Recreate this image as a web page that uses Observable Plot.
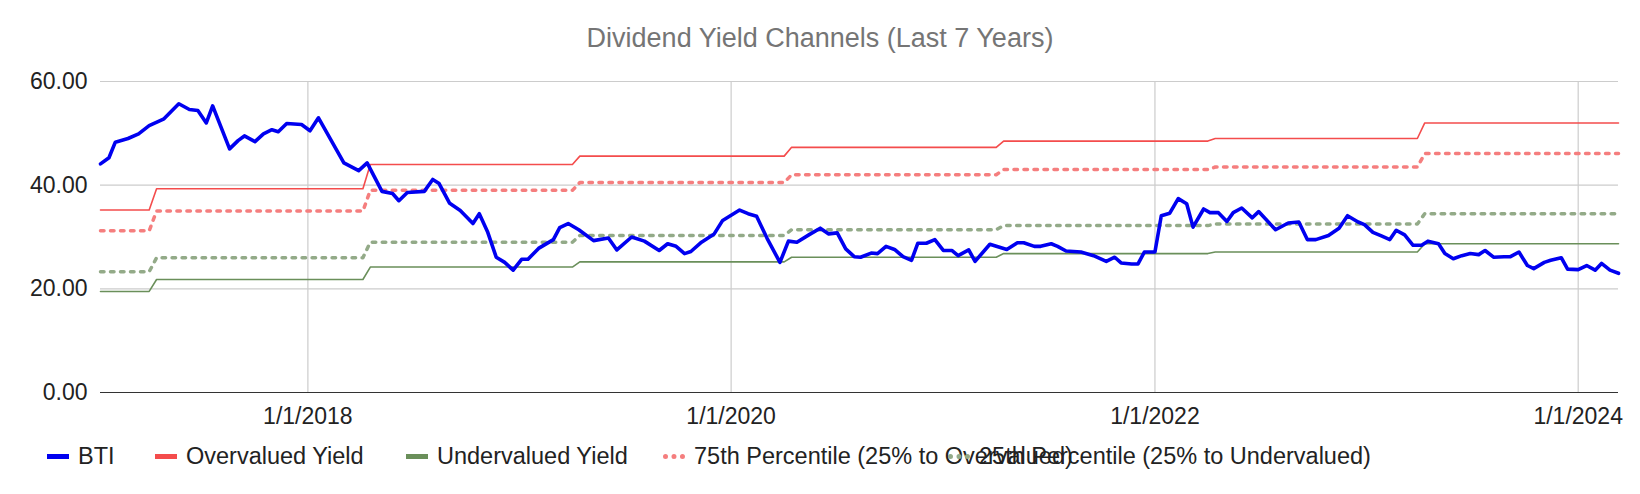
<!DOCTYPE html>
<html><head><meta charset="utf-8">
<script src="https://cdn.jsdelivr.net/npm/d3@7"></script>
<script src="https://cdn.jsdelivr.net/npm/@observablehq/plot@0.6"></script>
<style>
body{margin:0;background:#fff;font-family:"Liberation Sans",Arial,sans-serif;width:1640px;height:494px;position:relative;overflow:hidden}
#title{position:absolute;top:22px;left:0;width:1640px;text-align:center;font-size:27px;color:#757575;line-height:32px}
#chart{position:absolute;top:60px;left:0}
#legend{position:absolute;top:442px;left:0;font-size:23.5px;color:#222}
.it{position:absolute;white-space:nowrap;display:flex;align-items:center;line-height:28px}
.sw{width:22px;height:0;margin-right:9px}
</style></head><body>
<div id="title">Dividend Yield Channels (Last 7 Years)</div>
<div id="chart"></div>
<div id="legend"></div>
<script>
// BTI dividend yield series: [decimal year, yield]
const btiYears = [2017.02,2017.06,2017.09,2017.15,2017.20,2017.25,2017.32,2017.39,2017.44,2017.48,2017.52,2017.55,2017.63,2017.67,2017.70,2017.75,2017.79,2017.83,2017.86,2017.90,2017.97,2018.01,2018.05,2018.17,2018.24,2018.28,2018.35,2018.40,2018.43,2018.47,2018.55,2018.59,2018.62,2018.67,2018.72,2018.78,2018.81,2018.85,2018.89,2018.93,2018.97,2019.01,2019.04,2019.09,2019.16,2019.19,2019.23,2019.28,2019.35,2019.42,2019.46,2019.53,2019.59,2019.66,2019.70,2019.74,2019.78,2019.81,2019.86,2019.92,2019.96,2020.04,2020.08,2020.12,2020.17,2020.23,2020.27,2020.31,2020.37,2020.42,2020.46,2020.50,2020.54,2020.58,2020.61,2020.66,2020.69,2020.73,2020.77,2020.81,2020.85,2020.88,2020.92,2020.96,2021.00,2021.04,2021.07,2021.12,2021.15,2021.22,2021.30,2021.35,2021.38,2021.43,2021.46,2021.51,2021.54,2021.58,2021.65,2021.71,2021.77,2021.81,2021.84,2021.89,2021.92,2021.95,2022.00,2022.03,2022.07,2022.11,2022.15,2022.18,2022.23,2022.26,2022.30,2022.34,2022.37,2022.41,2022.46,2022.49,2022.57,2022.63,2022.68,2022.72,2022.76,2022.82,2022.87,2022.91,2022.96,2022.99,2023.03,2023.07,2023.11,2023.14,2023.18,2023.22,2023.26,2023.29,2023.34,2023.37,2023.41,2023.45,2023.49,2023.53,2023.56,2023.60,2023.65,2023.68,2023.72,2023.76,2023.79,2023.84,2023.87,2023.92,2023.95,2024.00,2024.04,2024.08,2024.11,2024.15,2024.19];
const btiValues = [44.1,45.3,48.3,49.0,49.9,51.5,52.8,55.7,54.6,54.4,52.0,55.3,47.0,48.6,49.5,48.4,49.9,50.7,50.3,51.9,51.7,50.5,53.0,44.3,42.8,44.3,38.8,38.4,37.0,38.6,38.8,41.1,40.3,36.5,35.1,32.6,34.5,30.9,26.1,25.1,23.6,25.7,25.7,27.8,29.5,31.8,32.6,31.4,29.3,29.8,27.5,30.0,29.2,27.4,28.7,28.2,26.8,27.2,29.0,30.6,33.2,35.2,34.5,34.0,29.7,25.1,29.2,29.0,30.5,31.7,30.6,30.8,27.7,26.2,26.1,26.9,26.8,28.2,27.6,26.2,25.5,28.8,28.8,29.5,27.4,27.4,26.4,27.5,25.3,28.6,27.6,28.9,28.9,28.2,28.2,28.7,28.2,27.3,27.1,26.4,25.3,26.1,25.0,24.8,24.8,27.1,27.1,34.1,34.6,37.4,36.4,31.9,35.4,34.7,34.7,33.0,34.7,35.6,33.7,34.9,31.4,32.7,32.9,29.5,29.5,30.3,31.7,34.1,32.9,32.4,30.9,30.2,29.5,31.3,30.4,28.4,28.4,29.2,28.7,26.8,25.8,26.4,26.8,26.6,27.4,26.1,26.2,26.2,27.1,24.5,23.9,25.1,25.5,26.0,23.8,23.7,24.5,23.6,24.9,23.6,23.0];
// channel levels, each valid from the step date onward
const stepYears = [2017.02,2017.25,2018.26,2019.25,2020.25,2021.25,2022.25,2023.24];
const overvalued = [35.2,39.3,44.0,45.6,47.3,48.5,49.0,52.0];
const pct75 = [31.2,35.0,39.0,40.5,42.0,43.0,43.5,46.1];
const pct25 = [23.3,26.0,29.0,30.3,31.4,32.2,32.5,34.5];
const undervalued = [19.5,21.8,24.2,25.2,26.1,26.8,27.1,28.7];
const endYear = 2024.19;
const yTicks = [0,20,40,60];
const xTickYears = [2018,2020,2022,2024];

const toDate = y => { const yr = Math.floor(y); const s = new Date(yr,0,1), e = new Date(yr+1,0,1); return new Date(+s + (y-yr)*(e-s)); };
const bti = btiYears.map((y,i)=>({date:toDate(y), v:btiValues[i]}));
function steps(levels){
  const out=[];
  levels.forEach((v,i)=>{
    const start = i===0 ? stepYears[0] : stepYears[i]+0.035;
    const end = i===levels.length-1 ? endYear : stepYears[i+1];
    out.push({date:toDate(start),v},{date:toDate(end),v});
  });
  return out;
}
const fmt = d => `${d.getMonth()+1}/${d.getDate()}/${d.getFullYear()}`;
const xTicks = xTickYears.map(y=>new Date(y,0,1));

const chart = Plot.plot({
  width:1640, height:370,
  marginLeft:100, marginRight:22, marginTop:21, marginBottom:38,
  style:{fontFamily:"Liberation Sans, Arial, sans-serif", fontSize:"23px", color:"#222", overflow:"visible"},
  x:{type:"time", domain:[toDate(stepYears[0]), toDate(endYear)], label:null},
  y:{domain:[0,60], label:null},
  marks:[
    Plot.ruleX(xTicks,{stroke:"#ccc", strokeWidth:1.2}),
    Plot.ruleY(yTicks.filter(d=>d>0),{stroke:"#ccc", strokeWidth:1.2}),
    Plot.ruleY([0],{stroke:"#333", strokeWidth:1.2}),
    Plot.axisX({ticks:xTicks, tickFormat:fmt, tickSize:0, tickPadding:15, textAnchor:"middle", fontSize:23}),
    Plot.axisY({ticks:yTicks, tickFormat:d=>d.toFixed(2), tickSize:0, tickPadding:13, fontSize:23}),
    Plot.line(steps(undervalued),{x:"date",y:"v",stroke:"#6a8f5a",strokeWidth:1.6}),
    Plot.line(steps(overvalued),{x:"date",y:"v",stroke:"#f44c4c",strokeWidth:1.6}),
    Plot.line(steps(pct25),{x:"date",y:"v",stroke:"#93aa88",strokeWidth:3.5,strokeDasharray:"3.5,6.5"}),
    Plot.line(steps(pct75),{x:"date",y:"v",stroke:"#f57e7e",strokeWidth:3.5,strokeDasharray:"3.5,6.5"}),
    Plot.line(bti,{x:"date",y:"v",stroke:"#0000f0",strokeWidth:3.6,strokeLinejoin:"round"})
  ]
});
document.getElementById("chart").appendChild(chart);

const legendItems = [
  {name:"BTI", x:47, style:"border-top:5px solid #0000f0"},
  {name:"Overvalued Yield", x:155, style:"border-top:5px solid #f44c4c"},
  {name:"Undervalued Yield", x:406, style:"border-top:5px solid #6a8f5a"},
  {name:"75th Percentile (25% to Overvalued)", x:663, style:"border-top:5px dotted #f57e7e"},
  {name:"25th Percentile (25% to Undervalued)", x:948, style:"border-top:5px dotted #93aa88"}
];
const lg = document.getElementById("legend");
legendItems.forEach(it=>{
  const d=document.createElement("div"); d.className="it"; d.style.left=it.x+"px";
  d.innerHTML=`<span class="sw" style="${it.style}"></span><span>${it.name}</span>`;
  lg.appendChild(d);
});
</script></body></html>
